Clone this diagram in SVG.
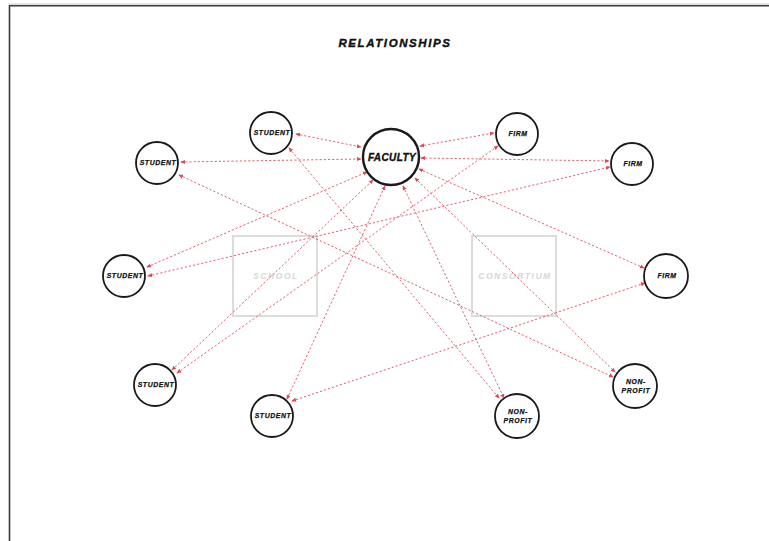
<svg xmlns="http://www.w3.org/2000/svg" width="769" height="541" viewBox="0 0 769 541">
  <style>
    .frame { stroke: #3a3a3a; stroke-width: 1.6; fill: none; }
    .frame-soft { stroke: #c8c8c8; stroke-width: 1; fill: none; }
    .node circle { fill: #ffffff; stroke: #1a1a1a; stroke-width: 1.8; }
    .node.main circle { stroke-width: 2.4; }
    .label { font-family: "Liberation Sans", Arial, sans-serif; font-weight: bold; font-style: italic; fill: #111111; stroke: #111111; stroke-width: 0.25; text-anchor: middle; }
    .small { font-size: 6.9px; letter-spacing: 0.6px; }
    .big { font-size: 10px; letter-spacing: 0.4px; stroke-width: 0.35; }
    .title { font-size: 11.5px; letter-spacing: 1.6px; stroke-width: 0.4; }
    .zone rect { fill: none; stroke: #dcdcdc; stroke-width: 2; }
    .zone text { font-family: "Liberation Sans", Arial, sans-serif; font-weight: bold; font-style: italic; font-size: 8.6px; letter-spacing: 1.5px; fill: #d6d6d6; text-anchor: middle; }
    #connectors line { stroke: #e6606f; stroke-width: 1; stroke-dasharray: 2.2 2; fill: none; marker-start: url(#tip); marker-end: url(#tip); }
  </style>
  <defs>
    <marker id="tip" viewBox="0 0 6 6" refX="5" refY="3" markerWidth="5" markerHeight="5" markerUnits="userSpaceOnUse" orient="auto-start-reverse">
      <path d="M0,0.5 L6,3 L0,5.5 Z" fill="#e0485a"/>
    </marker>
  </defs>

  <rect width="769" height="541" fill="#ffffff"/>

  <!-- page frame (top and left edges) -->
  <line class="frame-soft" x1="9" y1="4" x2="769" y2="4"/>
  <line class="frame" x1="9.5" y1="5.8" x2="769" y2="5.8"/>
  <line class="frame" x1="9.5" y1="5" x2="9.5" y2="541"/>

  <text class="label title" x="395" y="47">RELATIONSHIPS</text>

  <!-- background zones -->
  <g id="zone-school" class="zone">
    <rect x="233" y="236" width="84" height="80"/>
    <text x="276" y="279">SCHOOL</text>
  </g>
  <g id="zone-consortium" class="zone">
    <rect x="472" y="236" width="84" height="80"/>
    <text x="515" y="279">CONSORTIUM</text>
  </g>

  <!-- connectors -->
  <g id="connectors">
    <line x1="296" y1="134" x2="361" y2="147"/>
    <line x1="181" y1="162" x2="361" y2="159"/>
    <line x1="289" y1="148" x2="499" y2="398"/>
    <line x1="179" y1="175" x2="613" y2="377"/>
    <line x1="147" y1="267" x2="367" y2="172"/>
    <line x1="148" y1="276" x2="610" y2="167"/>
    <line x1="172" y1="370" x2="373" y2="180"/>
    <line x1="177" y1="373" x2="498" y2="146"/>
    <line x1="287" y1="399" x2="385" y2="186"/>
    <line x1="292" y1="401" x2="645" y2="283"/>
    <line x1="403" y1="186" x2="504" y2="398"/>
    <line x1="415" y1="178" x2="615" y2="372"/>
    <line x1="419" y1="169" x2="644" y2="268"/>
    <line x1="420" y1="146" x2="494" y2="133"/>
    <line x1="421" y1="158" x2="609" y2="161"/>
  </g>

  <!-- nodes -->
  <g id="faculty" class="node main">
    <circle cx="391" cy="157" r="28"/>
    <text class="label big" x="392" y="160.5">FACULTY</text>
  </g>
  <g id="student-top" class="node">
    <circle cx="271" cy="133" r="21"/>
    <text class="label small" x="272" y="135.4">STUDENT</text>
  </g>
  <g id="student-left" class="node">
    <circle cx="157" cy="163" r="21"/>
    <text class="label small" x="158" y="165.4">STUDENT</text>
  </g>
  <g id="student-mid" class="node">
    <circle cx="124" cy="276" r="21"/>
    <text class="label small" x="125" y="278.4">STUDENT</text>
  </g>
  <g id="student-lower" class="node">
    <circle cx="155" cy="385" r="21"/>
    <text class="label small" x="156" y="387.4">STUDENT</text>
  </g>
  <g id="student-bottom" class="node">
    <circle cx="272" cy="416" r="21"/>
    <text class="label small" x="273" y="418.4">STUDENT</text>
  </g>
  <g id="firm-top" class="node">
    <circle cx="517" cy="134" r="21"/>
    <text class="label small" x="518" y="136.4">FIRM</text>
  </g>
  <g id="firm-right" class="node">
    <circle cx="632" cy="164" r="21"/>
    <text class="label small" x="633" y="166.4">FIRM</text>
  </g>
  <g id="firm-mid" class="node">
    <circle cx="666" cy="276" r="22"/>
    <text class="label small" x="667" y="278.4">FIRM</text>
  </g>
  <g id="nonprofit-right" class="node">
    <circle cx="635" cy="386" r="22"/>
    <text class="label small" x="636" y="383.5">NON-</text>
    <text class="label small" x="636" y="392.8">PROFIT</text>
  </g>
  <g id="nonprofit-bottom" class="node">
    <circle cx="517" cy="416" r="22"/>
    <text class="label small" x="518" y="413.5">NON-</text>
    <text class="label small" x="518" y="422.8">PROFIT</text>
  </g>
</svg>
